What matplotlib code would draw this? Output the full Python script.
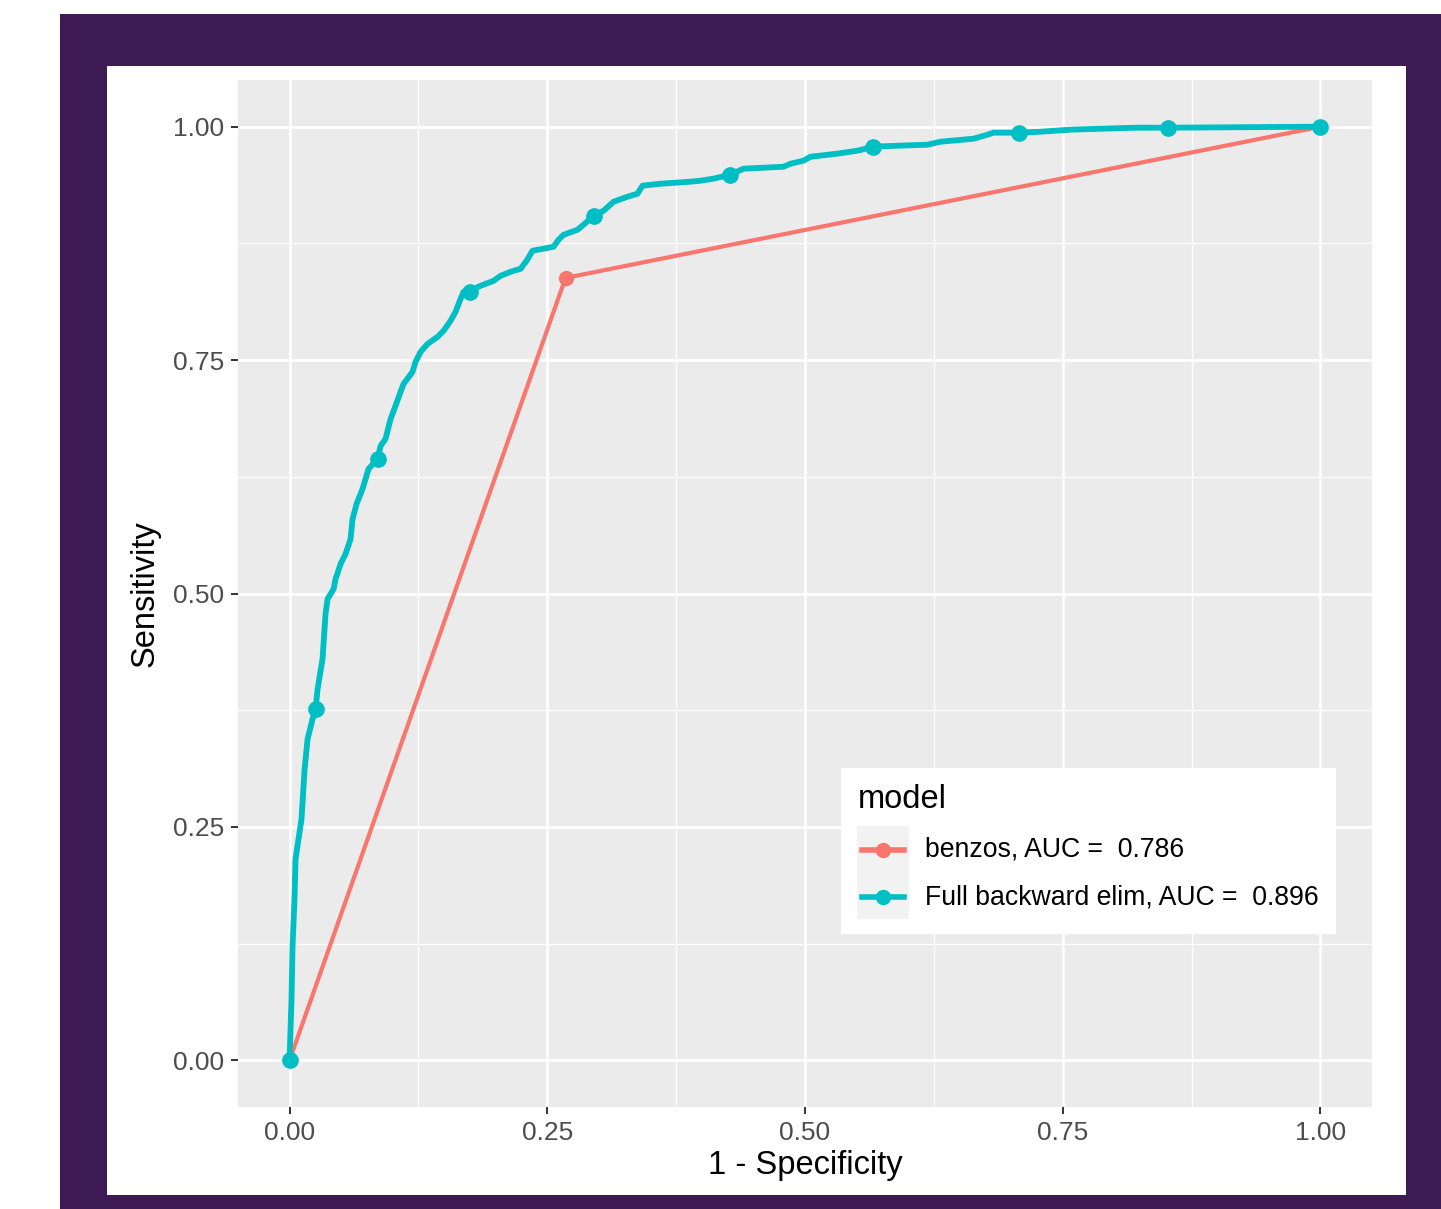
import matplotlib
matplotlib.use('Agg')
import matplotlib.pyplot as plt
from matplotlib.patches import Rectangle
from matplotlib.lines import Line2D
import numpy as np

plt.rcParams['font.family'] = ['Liberation Sans', 'DejaVu Sans']

# ROC curves (1 - specificity, sensitivity)
full_fpr = [0.0, 0.0019, 0.0029, 0.0048, 0.0058, 0.0087, 0.0116, 0.0146, 0.0175,
            0.0223, 0.0252, 0.0272, 0.0320, 0.0349, 0.0369, 0.0427, 0.0446, 0.0495,
            0.0543, 0.0592, 0.0611, 0.0650, 0.0708, 0.0737, 0.0766, 0.0854, 0.0883,
            0.0931, 0.0980, 0.1028, 0.1077, 0.1106, 0.1193, 0.1222, 0.1271, 0.1339,
            0.1436, 0.1494, 0.1562, 0.1610, 0.1659, 0.1688, 0.1746, 0.1853, 0.1979,
            0.2047, 0.2144, 0.2241, 0.2299, 0.2357, 0.2561, 0.2609, 0.2658, 0.2793,
            0.2852, 0.2949, 0.3046, 0.3143, 0.3278, 0.3375, 0.3424, 0.3598, 0.3889,
            0.3986, 0.4112, 0.4277, 0.4403, 0.4791, 0.4859, 0.4985, 0.5053, 0.5315,
            0.5509, 0.5664, 0.5897, 0.6188, 0.6314, 0.6634, 0.6770, 0.6828, 0.7071,
            0.7284, 0.7575, 0.8206, 0.8526, 1.0]
full_tpr = [0.0, 0.0654, 0.1222, 0.1726, 0.2154, 0.2369, 0.2583, 0.3119, 0.3441,
            0.3655, 0.3762, 0.3976, 0.4298, 0.4780, 0.4941, 0.5048, 0.5155, 0.5316,
            0.5423, 0.5584, 0.5798, 0.5959, 0.6120, 0.6227, 0.6334, 0.6442, 0.6581,
            0.6656, 0.6870, 0.7010, 0.7160, 0.7245, 0.7374, 0.7481, 0.7588, 0.7674,
            0.7749, 0.7814, 0.7921, 0.8017, 0.8156, 0.8232, 0.8242, 0.8296, 0.8349,
            0.8403, 0.8446, 0.8478, 0.8564, 0.8671, 0.8714, 0.8789, 0.8842, 0.8896,
            0.8950, 0.9046, 0.9100, 0.9196, 0.9250, 0.9282, 0.9368, 0.9389, 0.9411,
            0.9421, 0.9443, 0.9486, 0.9550, 0.9571, 0.9603, 0.9636, 0.9678, 0.9711,
            0.9743, 0.9786, 0.9796, 0.9807, 0.9839, 0.9871, 0.9914, 0.9936, 0.9936,
            0.9946, 0.9968, 0.9989, 0.9989, 1.0]

# cut points drawn as dots
full_cut_fpr = [0.0, 0.0252, 0.0854, 0.1746, 0.2949, 0.4277, 0.5664, 0.7071, 0.8526, 1.0]
full_cut_tpr = [0.0, 0.3762, 0.6442, 0.8232, 0.9046, 0.9486, 0.9786, 0.9936, 0.9989, 1.0]

benzo_fpr = [0.0, 0.2677, 1.0]
benzo_tpr = [0.0, 0.838, 1.0]

labels = ['benzos, AUC =  0.786', 'Full backward elim, AUC =  0.896']
colors = ['#F8766D', '#00BFC4']
ticks = [0.0, 0.25, 0.5, 0.75, 1.0]
tick_labels = ['0.00', '0.25', '0.50', '0.75', '1.00']

W, H = 1441, 1209
fig = plt.figure(figsize=(W / 100, H / 100), dpi=100)
fig.patch.set_facecolor('white')


def fx(px):
    return px / W


def fy(py):
    return 1 - py / H


# purple frame and white card
fig.patches.append(Rectangle((fx(60), fy(1209)), fx(1441) - fx(60), fy(14) - fy(1209),
                             transform=fig.transFigure, facecolor='#3D1A54',
                             edgecolor='none', zorder=-3))
fig.patches.append(Rectangle((fx(107), fy(1195)), fx(1406) - fx(107), fy(66) - fy(1195),
                             transform=fig.transFigure, facecolor='white',
                             edgecolor='none', zorder=-2))

ax = fig.add_axes([fx(238), fy(1107), fx(1372) - fx(238), fy(80) - fy(1107)])
ax.set_zorder(1)
ax.set_facecolor('#EBEBEB')
for s in ax.spines.values():
    s.set_visible(False)
ax.set_xlim(-0.05, 1.05)
ax.set_ylim(-0.05, 1.05)
ax.set_xticks(ticks)
ax.set_xticklabels(tick_labels)
ax.set_yticks(ticks)
ax.set_yticklabels(tick_labels)
ax.set_xticks([0.125, 0.375, 0.625, 0.875], minor=True)
ax.set_yticks([0.125, 0.375, 0.625, 0.875], minor=True)
ax.grid(which='major', color='white', linewidth=1.9)
ax.grid(which='minor', color='white', linewidth=0.9)
ax.set_axisbelow(True)
ax.tick_params(which='major', length=5, width=1.4, color='#333333',
               labelsize=19, labelcolor='#4D4D4D', pad=5)
ax.tick_params(which='minor', length=0)

# ROC lines
ax.plot(benzo_fpr, benzo_tpr, color=colors[0], lw=3.0, solid_capstyle='butt', zorder=3)
ax.plot(benzo_fpr, benzo_tpr, 'o', color=colors[0], ms=10, zorder=3)
ax.plot(full_fpr, full_tpr, color=colors[1], lw=4.2, zorder=4)
ax.plot(full_cut_fpr, full_cut_tpr, 'o', color=colors[1], ms=11, zorder=4)

ax.set_xlabel('1 - Specificity', fontsize=23.5, color='black')
ax.set_ylabel('Sensitivity', fontsize=23.5, color='black')
ax.xaxis.set_label_coords(0.5, -0.057)
ax.yaxis.set_label_coords(-0.082, 0.5)
ax.xaxis.label.set_va('center')
ax.yaxis.label.set_va('center')

# legend box drawn by hand
fig.patches.append(Rectangle((fx(841), fy(934)), fx(1336) - fx(841), fy(768) - fy(934),
                             transform=fig.transFigure, facecolor='white',
                             edgecolor='none', zorder=5))
fig.patches.append(Rectangle((fx(857), fy(919)), fx(909) - fx(857), fy(826) - fy(919),
                             transform=fig.transFigure, facecolor='#F2F2F2',
                             edgecolor='none', zorder=6))
fig.text(fx(858), fy(808), 'model', fontsize=23.5, color='black', ha='left',
         va='baseline', zorder=7)
for i, (lab, col) in enumerate(zip(labels, colors)):
    yc = fy(850 + 47 * i)
    fig.lines.append(Line2D([fx(862), fx(904)], [yc, yc], transform=fig.transFigure,
                            color=col, lw=4.0, zorder=7))
    fig.lines.append(Line2D([fx(883)], [yc], transform=fig.transFigure, marker='o',
                            color=col, ms=10, zorder=7))
    fig.text(fx(925), yc, lab, fontsize=19.2, color='black', ha='left',
             va='center', zorder=7)

plt.savefig('out.png', dpi=100)
